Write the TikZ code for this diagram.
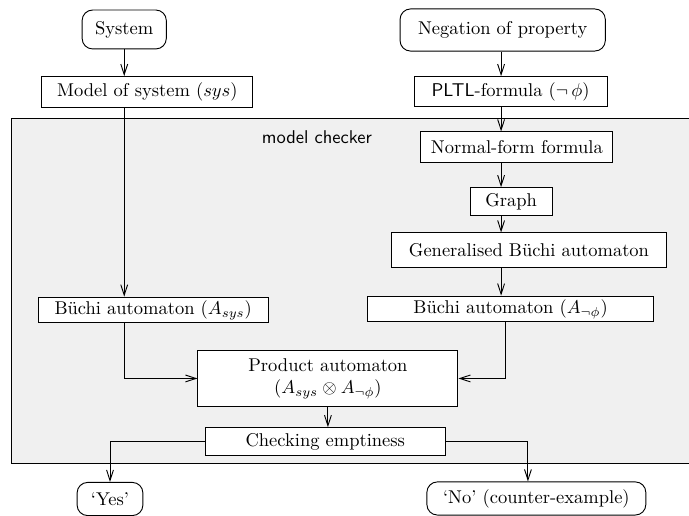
\documentclass[tikz,border=0pt]{standalone}
\usetikzlibrary{arrows.meta}
\begin{document}
\begin{tikzpicture}[line width=0.5pt,
  blk/.style={draw, fill=white, inner sep=0pt},
  io/.style={draw, fill=white, rounded corners=2mm, inner sep=0pt},
  >={Straight Barb[length=2mm,width=1.3mm]}]
\useasboundingbox (0,0) rectangle (13.09,9.80);
% model checker area
\draw[fill=black!6] (0.21,0.99) rectangle (13.4,7.54);
\node[font=\sffamily] (mc) at (6.02,7.20) {model checker};
% inputs
\node[io, minimum width=1.60cm, minimum height=0.74cm] (sys) at (2.36,9.24) {System};
\node[io, minimum width=3.90cm, minimum height=0.80cm] (neg) at (9.55,9.23) {Negation of property};
\node[blk, minimum width=4.01cm, minimum height=0.59cm] (model) at (2.80,8.05) {Model of system ($sys$)};
\node[blk, minimum width=3.67cm, minimum height=0.57cm] (pltl) at (9.70,8.06) {{\sffamily PLTL}-formula ($\neg\,\phi$)};
% inside the checker
\node[blk, minimum width=3.65cm, minimum height=0.59cm] (nff) at (9.82,7.00) {Normal-form formula};
\node[blk, minimum width=1.56cm, minimum height=0.53cm] (graph) at (9.71,5.97) {Graph};
\node[blk, minimum width=5.21cm, minimum height=0.65cm] (gba) at (10.05,5.05) {Generalised B\"uchi automaton};
\node[blk, minimum width=5.42cm, minimum height=0.49cm] (bneg) at (9.70,3.93) {B\"uchi automaton ($A_{\neg\phi}$)};
\node[blk, minimum width=4.37cm, minimum height=0.49cm] (bsys) at (2.91,3.91) {B\"uchi automaton ($A_{sys}$)};
\node[blk, minimum width=4.94cm, minimum height=1.05cm, align=center] (prod) at (6.23,2.61) {Product automaton\\($A_{sys}\otimes A_{\neg\phi}$)};
\node[blk, minimum width=4.56cm, minimum height=0.53cm] (check) at (6.18,1.41) {Checking emptiness};
% results
\node[io, minimum width=1.25cm, minimum height=0.63cm] (yes) at (2.09,0.32) {`Yes'};
\node[io, minimum width=4.16cm, minimum height=0.63cm] (no) at (10.19,0.33) {`No' (counter-example)};
\coordinate (spine) at (9.52,0);
% connectors
\draw[->] (sys.south) -- (sys.south |- model.north);
\draw[->] (sys.south |- model.south) -- (sys.south |- bsys.north);
\draw[->] (sys.south |- bsys.south) |- (prod.west);
\draw[->] (neg.south -| spine) -- (pltl.north -| spine);
\draw[->] (pltl.south -| spine) -- (nff.north -| spine);
\draw[->] (nff.south -| spine) -- (graph.north -| spine);
\draw[->] (graph.south -| spine) -- (gba.north -| spine);
\draw[->] (gba.south -| spine) -- (bneg.north -| spine);
\draw[->] ([xshift=-1mm]bneg.south) |- (prod.east);
\draw[->] (prod.south) -- (prod.south |- check.north);
\draw[->] (check.west) -| (yes.north);
\draw[->] (check.east) -| ([xshift=-1.6mm]no.north);
\end{tikzpicture}
\end{document}
